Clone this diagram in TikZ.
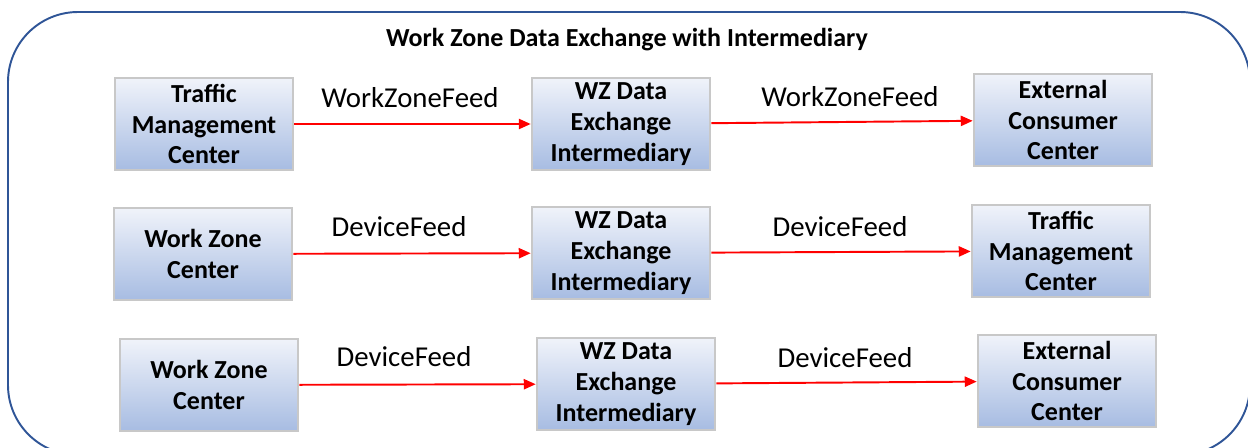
\documentclass[tikz,border=0pt]{standalone}
\usepackage{fontspec}
\setmainfont{Carlito}
\usepackage{tikz}
\usetikzlibrary{calc, arrows.meta, positioning}

\definecolor{frameblue}{HTML}{2F5597}
\definecolor{boxtop}{HTML}{F0F3FA}
\definecolor{boxmid}{HTML}{C9D6EE}
\definecolor{boxbot}{HTML}{A7BCE2}
\definecolor{boxline}{HTML}{C8C8C8}

\begin{document}
\begin{tikzpicture}[x=0.02cm, y=-0.02cm,
    sysbox/.style={draw=boxline, line width=1.5pt, top color=boxtop, middle color=boxmid, bottom color=boxbot,
      minimum width=3.56cm, minimum height=1.84cm, align=center, inner sep=0pt,
      font=\fontsize{14.8}{17.6}\selectfont\bfseries},
    feed/.style={draw=red, line width=1.1pt, -{Triangle[length=6.8pt, width=5.8pt]}},
    feedlabel/.style={font=\fontsize{16.4}{19}\selectfont}]
      \useasboundingbox (0, 0) rectangle (1248, 447);
      \draw[frameblue, line width=1.1pt, rounded corners=1.4cm] (8, 12) rectangle (1250, 455);
      \node[font=\fontsize{14.8}{17}\selectfont\bfseries] (title) at (627, 40) {Work Zone Data Exchange with Intermediary};
      \node[sysbox] (tmcA) at (204, 124) {Traffic\\Management\\Center};
      \node[sysbox] (wzdeA) at (621, 124) {WZ Data\\Exchange\\Intermediary};
      \node[sysbox] (eccA) at (1063, 120) {External\\Consumer\\Center};
      \node[sysbox] (wzcB) at (203, 254) {Work Zone\\Center};
      \node[sysbox] (wzdeB) at (621, 253) {WZ Data\\Exchange\\Intermediary};
      \node[sysbox] (tmcB) at (1061, 251) {Traffic\\Management\\Center};
      \node[sysbox] (wzcC) at (209, 385) {Work Zone\\Center};
      \node[sysbox] (wzdeC) at (626, 384) {WZ Data\\Exchange\\Intermediary};
      \node[sysbox] (eccC) at (1067, 381) {External\\Consumer\\Center};
      \draw[feed] (tmcA) -- (wzdeA);
      \draw[feed] (wzdeA) -- (eccA);
      \draw[feed] (wzcB) -- (wzdeB);
      \draw[feed] (wzdeB) -- (tmcB);
      \draw[feed] (wzcC) -- (wzdeC);
      \draw[feed] (wzdeC) -- (eccC);
      \node[feedlabel] (lblA1) at (410, 98) {WorkZoneFeed};
      \node[feedlabel] (lblA2) at (850, 97) {WorkZoneFeed};
      \node[feedlabel] (lblB1) at (399, 227) {DeviceFeed};
      \node[feedlabel] (lblB2) at (840, 227) {DeviceFeed};
      \node[feedlabel] (lblC1) at (404, 357) {DeviceFeed};
      \node[feedlabel] (lblC2) at (845, 358) {DeviceFeed};
    \end{tikzpicture}
\end{document}
